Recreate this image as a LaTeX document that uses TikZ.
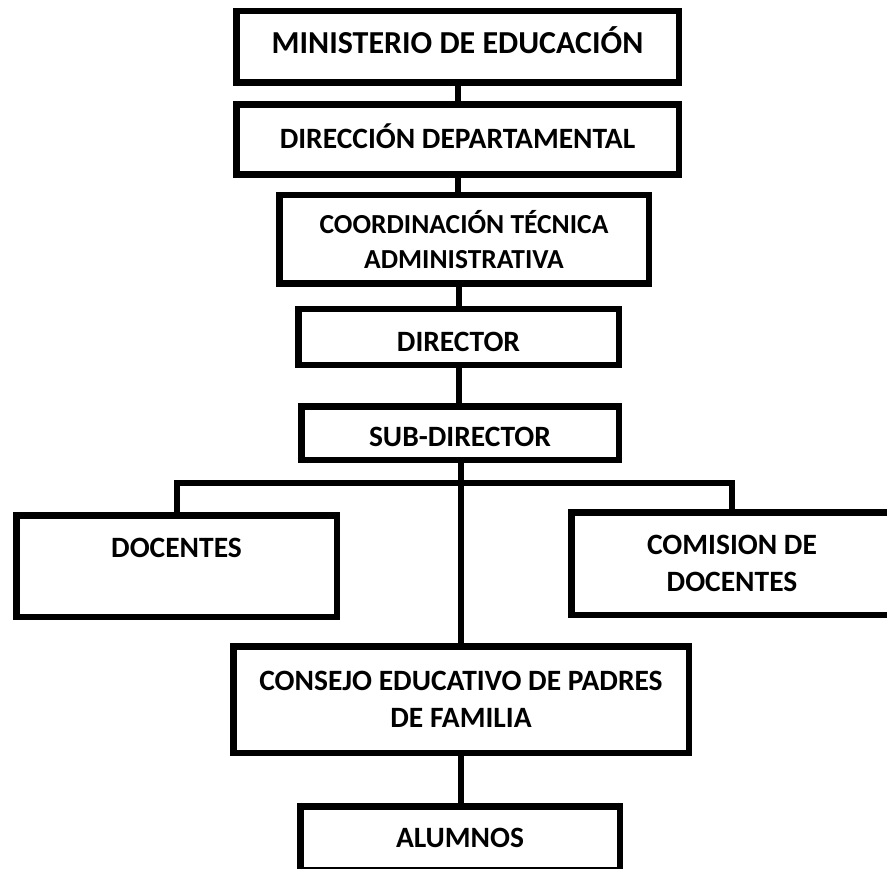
\documentclass[tikz,border=0pt]{standalone}
\usepackage{fontspec}
\setmainfont{Carlito}
\usepackage{tikz}

\begin{document}
\begin{tikzpicture}[x = 1pt, y = -1pt,
    caja/.style = {draw, line width = 6.5pt, align = center, inner sep = 0pt,
                   font = \bfseries\fontsize{29.5}{37}\selectfont},
    alto/.style 2 args = {text height = #1, text depth = #2},
    linea/.style = {line width = 6pt}]
      \useasboundingbox (0,0) rectangle (887,869);
      \node[caja, minimum width = 442.5pt, minimum height = 71.5pt, alto = {20.6pt}{7pt},
            font = \bfseries\fontsize{32}{38}\selectfont] (min) at (457.5,47) {MINISTERIO DE EDUCACIÓN};
      \node[caja, minimum width = 442.5pt, minimum height = 70pt, alto = {19pt}{0pt}] (dep) at (457.5,139.5) {DIRECCIÓN DEPARTAMENTAL};
      \node[caja, minimum width = 369.5pt, minimum height = 88.5pt,
            font = \bfseries\fontsize{27.5}{35}\selectfont] (coord) at (464,239.5) {COORDINACIÓN TÉCNICA\\ADMINISTRATIVA};
      \node[caja, minimum width = 320.5pt, minimum height = 55.5pt, alto = {30pt}{0pt}] (dir) at (458.5,337) {DIRECTOR};
      \node[caja, minimum width = 317.5pt, minimum height = 53.5pt, alto = {27pt}{0pt}] (sub) at (460,433) {SUB-DIRECTOR};
      \node[caja, minimum width = 320.5pt, minimum height = 101.5pt] (doc) at (176.5,566) {DOCENTES\\ \mbox{}};
      \node[caja, minimum width = 321.5pt, minimum height = 102.5pt] (com) at (732,563.5) {COMISION DE\\DOCENTES};
      \node[caja, minimum width = 455.5pt, minimum height = 106.5pt] (cons) at (461,699.5) {CONSEJO EDUCATIVO DE PADRES\\DE FAMILIA};
      \node[caja, minimum width = 319.5pt, minimum height = 63.5pt] (alum) at (460,838) {ALUMNOS};
      \coordinate (barra) at (461,483);
      \path[linea] (min) edge (dep)
                   (dep.south) edge (dep.south |- coord.north)
                   (dir.north) edge (dir.north |- coord.south)
                   (dir.south) edge (dir.south |- sub.north)
                   (sub.south -| barra) edge (barra |- cons.north)
                   (cons.south) edge (cons.south |- alum.north);
      \draw[linea] (doc.north) -- (doc.north |- barra) -- (com.north |- barra) -- (com.north);
\end{tikzpicture}
\end{document}
